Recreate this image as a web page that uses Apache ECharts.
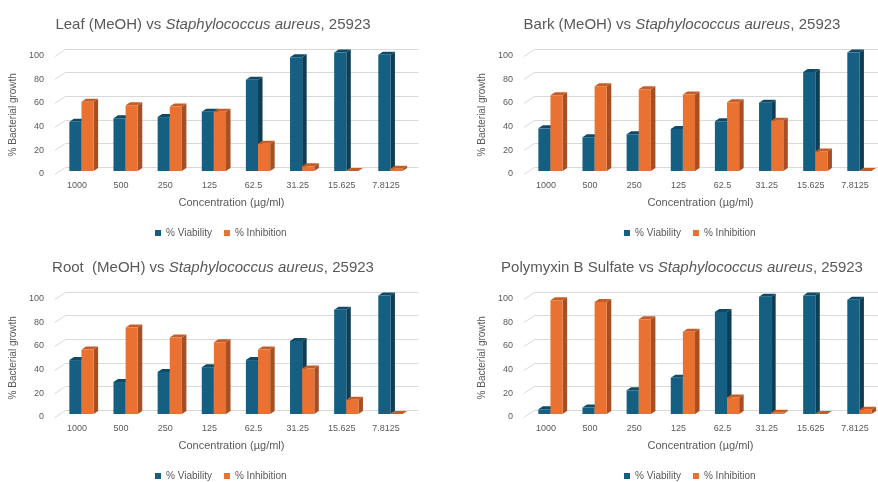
<!DOCTYPE html>
<html>
<head>
<meta charset="utf-8">
<script src="https://cdn.jsdelivr.net/npm/echarts@6/dist/echarts.min.js"></script>
<style>
  html, body { margin: 0; padding: 0; background: #ffffff; overflow: hidden; width: 878px; height: 482px; }
  .panel { position: absolute; width: 440px; height: 244px; }
</style>
</head>
<body>
<div id="p1" class="panel" style="left:0px;top:0px;"></div>
<div id="p2" class="panel" style="left:469px;top:0px;"></div>
<div id="p3" class="panel" style="left:0px;top:243px;"></div>
<div id="p4" class="panel" style="left:469px;top:243px;"></div>
<script>
// Concentrations tested (µg/ml), highest first
const categories = ['1000', '500', '250', '125', '62.5', '31.25', '15.625', '7.8125'];
const yTicks = [0, 20, 40, 60, 80, 100];

// % bacterial growth per extract
const leafViability   = [41.5, 44.5, 45.5, 50, 77, 96, 100, 98];
const leafInhibition  = [58.5, 55.5, 54.5, 50, 23, 4, 0, 2];
const barkViability   = [36, 28.5, 31, 35.5, 42, 57.5, 83.5, 100];
const barkInhibition  = [64, 71.5, 69, 64.5, 58, 42.5, 16.5, 0];
const rootViability   = [45.5, 27, 35.5, 39.5, 45.5, 61.5, 88, 100];
const rootInhibition  = [54.5, 73, 64.5, 60.5, 54.5, 38.5, 12, 0];
const polyViability   = [4, 5.5, 20, 30.5, 86, 99, 100, 96.5];
const polyInhibition  = [96, 94.5, 80, 69.5, 14, 1, 0, 3.5];

const titleLeaf = ['Leaf (MeOH) vs ', 'Staphylococcus aureus', ', 25923'];
const titleBark = ['Bark (MeOH) vs ', 'Staphylococcus aureus', ', 25923'];
const titleRoot = ['Root  (MeOH) vs ', 'Staphylococcus aureus', ', 25923'];
const titlePoly = ['Polymyxin B Sulfate vs ', 'Staphylococcus aureus', ', 25923'];

const seriesNames = ['% Viability', '% Inhibition'];
const xTitle = 'Concentration (µg/ml)';
const yTitle = '% Bacterial growth';

// Styling
const FONT = '"Liberation Sans", Arial, sans-serif';
const TEXT = '#595959';
const FACE = [
  { front: '#156082', side: '#0d3e55', top: '#104a66' },
  { front: '#e97132', side: '#a84f21', top: '#c45e28' }
];
// oblique depth of the floor/back wall, and of the bars inside it
const FLOOR_DX = 10.5, FLOOR_DY = -7;
const BAR_OFF_X = 4.5, BAR_OFF_Y = -3;
const BAR_DX = 4.5, BAR_DY = -3;
const BAR_FRAC = 0.275;

// back-wall gridline: short diagonal on the side wall, then across the back
function gridLines(params, api) {
  const cs = params.coordSys;
  const y = Math.round(api.coord([0, api.value(1)])[1]) + 0.5;
  return {
    type: 'polyline',
    shape: { points: [[cs.x, y], [cs.x + FLOOR_DX, y + FLOOR_DY], [cs.x + cs.width + FLOOR_DX, y + FLOOR_DY]] },
    style: { stroke: '#d9d9d9', lineWidth: 1, fill: null }
  };
}

// 3D column: front face, right side face and top face
function barRenderer(slot) {
  const c = FACE[slot];
  return function (params, api) {
    const i = api.value(0), v = api.value(1);
    const base = api.coord([i, 0]);
    const tip = api.coord([i, v]);
    const w = api.size([1, 0])[0] * BAR_FRAC;
    const x0 = base[0] + BAR_OFF_X + (slot === 0 ? -w : 0);
    const x1 = x0 + w;
    const yb = base[1] + BAR_OFF_Y;
    const yt = tip[1] + BAR_OFF_Y;
    return {
      type: 'group',
      children: [
        { type: 'polygon', shape: { points: [[x1, yt], [x1 + BAR_DX, yt + BAR_DY], [x1 + BAR_DX, yb + BAR_DY], [x1, yb]] }, style: { fill: c.side } },
        { type: 'polygon', shape: { points: [[x0, yt], [x0 + BAR_DX, yt + BAR_DY], [x1 + BAR_DX, yt + BAR_DY], [x1, yt]] }, style: { fill: c.top } },
        { type: 'rect', shape: { x: x0, y: yt, width: w, height: yb - yt }, style: { fill: c.front } }
      ]
    };
  };
}

function buildOption(titleParts, viability, inhibition) {
  return {
    animation: false,
    backgroundColor: '#ffffff',
    textStyle: { fontFamily: FONT },
    graphic: [{
      type: 'text',
      x: 213, y: 24.5,
      style: {
        text: '{n|' + titleParts[0] + '}{i|' + titleParts[1] + '}{n|' + titleParts[2] + '}',
        align: 'center', verticalAlign: 'middle',
        rich: {
          n: { fontSize: 15, fontFamily: FONT, fill: TEXT, color: TEXT },
          i: { fontSize: 15, fontFamily: FONT, fontStyle: 'italic', fill: TEXT, color: TEXT }
        }
      }
    }],
    grid: { left: 53, top: 55.5, width: 355, height: 118.5 },
    xAxis: {
      type: 'category',
      data: categories,
      axisLine: { show: false },
      axisTick: { show: false },
      axisLabel: { color: TEXT, fontSize: 9, margin: 7, fontFamily: FONT },
      name: xTitle,
      nameLocation: 'middle',
      nameGap: 23,
      nameTextStyle: { color: TEXT, fontSize: 11, fontFamily: FONT }
    },
    yAxis: {
      type: 'value',
      min: 0, max: 100, interval: 20,
      axisLine: { show: false },
      axisTick: { show: false },
      splitLine: { show: false },
      axisLabel: { color: TEXT, fontSize: 9, margin: 11, fontFamily: FONT },
      name: yTitle,
      nameLocation: 'middle',
      nameGap: 30,
      nameTextStyle: { color: TEXT, fontSize: 10, fontFamily: FONT }
    },
    legend: {
      data: seriesNames,
      left: 155, top: 228,
      icon: 'rect',
      itemWidth: 6, itemHeight: 6,
      itemGap: 12,
      padding: 0,
      textStyle: { color: TEXT, fontSize: 10, fontFamily: FONT }
    },
    series: [
      {
        type: 'custom', name: 'gridlines', silent: true, clip: false, z: 1,
        data: yTicks.map(v => [0, v]),
        renderItem: gridLines
      },
      {
        type: 'custom', name: seriesNames[0], clip: false, z: 2,
        itemStyle: { color: FACE[0].front },
        data: viability.map((v, i) => [i, v]),
        renderItem: barRenderer(0)
      },
      {
        type: 'custom', name: seriesNames[1], clip: false, z: 3,
        itemStyle: { color: FACE[1].front },
        data: inhibition.map((v, i) => [i, v]),
        renderItem: barRenderer(1)
      }
    ]
  };
}

const panels = [
  ['p1', titleLeaf, leafViability, leafInhibition],
  ['p2', titleBark, barkViability, barkInhibition],
  ['p3', titleRoot, rootViability, rootInhibition],
  ['p4', titlePoly, polyViability, polyInhibition]
];
panels.forEach(([id, t, v, inh]) => {
  const chart = echarts.init(document.getElementById(id), null, { renderer: 'canvas' });
  chart.setOption(buildOption(t, v, inh));
});
</script>
</body>
</html>
